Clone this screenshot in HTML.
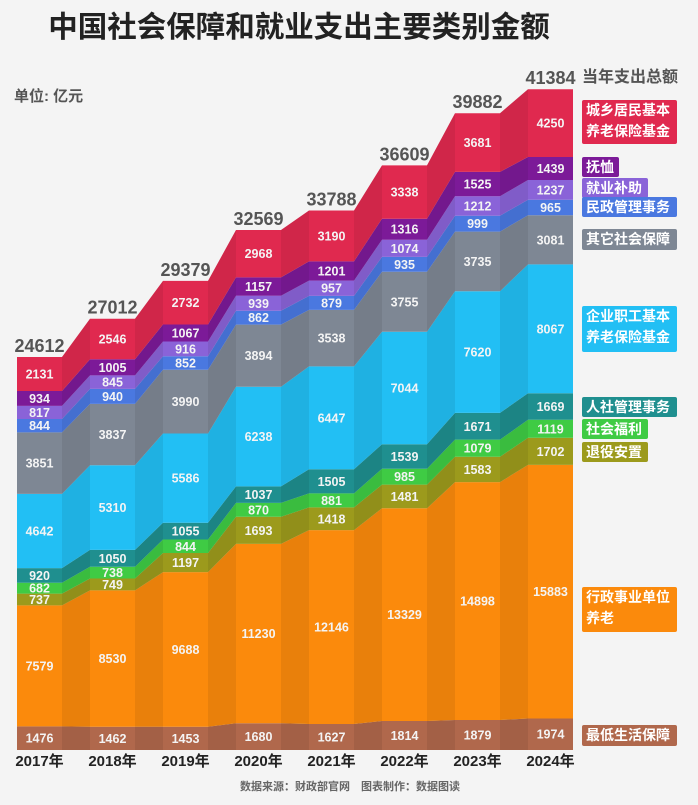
<!DOCTYPE html>
<html><head><meta charset="utf-8">
<style>
body{margin:0;background:#f4f4f4;width:698px;height:800px;overflow:hidden;font-family:"Liberation Sans","Noto Sans CJK SC",sans-serif;}
svg text{font-family:"Liberation Sans","Noto Sans CJK SC",sans-serif;font-weight:bold;}
</style></head><body>
<svg id="s" width="698" height="800" xmlns="http://www.w3.org/2000/svg">
<rect width="698" height="800" fill="#f4f4f4"/>
<text x="299" y="37" font-size="29.5" fill="#222" text-anchor="middle">中国社会保障和就业支出主要类别金额</text>
<text x="14" y="101" font-size="15" fill="#555">单位: 亿元</text>
<text x="350" y="790" font-size="11" fill="#666" text-anchor="middle">数据来源：财政部官网　图表制作：数据图读</text>
</svg>
<script>
(function(){
var d=[[1476,7579,737,682,920,4642,3851,844,817,934,2131],
[1462,8530,749,738,1050,5310,3837,940,845,1005,2546],
[1453,9688,1197,844,1055,5586,3990,852,916,1067,2732],
[1680,11230,1693,870,1037,6238,3894,862,939,1157,2968],
[1627,12146,1418,881,1505,6447,3538,879,957,1201,3190],
[1814,13329,1481,985,1539,7044,3755,935,1074,1316,3338],
[1879,14898,1583,1079,1671,7620,3735,999,1212,1525,3681],
[1974,15883,1702,1119,1669,8067,3081,965,1237,1439,4250]];
var tot=[24612,27012,29379,32569,33788,36609,39882,41384];
var col=["#b0684c","#fb8a0c","#9c9a1c","#3fcb44","#1f8f8f","#22bff4","#7e8794","#4a78e0","#8a63d8","#7c1a98","#e0294f"];
var base=750,k=393/24612,w=45;
function X(i){return 17+73*i;}
var s=document.getElementById('s'),ns="http://www.w3.org/2000/svg";
function el(t,a,txt){var e=document.createElementNS(ns,t);for(var q in a)e.setAttribute(q,a[q]);if(txt!=null)e.textContent=txt;s.appendChild(e);return e;}
var cum=d.map(function(r){var c=[0];r.forEach(function(v){c.push(c[c.length-1]+v)});return c;});
for(var L=0;L<11;L++){
 var tp=[],bt=[];
 for(var i=0;i<8;i++){
  var yt=base-cum[i][L+1]*k,yb=base-cum[i][L]*k;
  tp.push([X(i),yt],[X(i)+w,yt]);bt.push([X(i),yb],[X(i)+w,yb]);
 }
 var pts=tp.concat(bt.reverse()).map(function(p){return p[0].toFixed(1)+","+p[1].toFixed(1)}).join(" ");
 el('polygon',{points:pts,fill:col[L]});
}
// darken connectors
for(var i=0;i<7;i++){
 var p=[[X(i)+w,base],[X(i)+w,base-cum[i][11]*k],[X(i+1),base-cum[i+1][11]*k],[X(i+1),base]];
 el('polygon',{points:p.map(function(q){return q.join(",")}).join(" "),fill:"#000","fill-opacity":0.07});
}
for(var i=0;i<8;i++){
 for(var L=0;L<11;L++){
  var ym=base-(cum[i][L]+cum[i][L+1])/2*k;
  el('text',{x:X(i)+w/2,y:ym+4.5,"font-size":12.5,fill:"#f4f4f4","text-anchor":"middle"},d[i][L]);
 }
 el('text',{x:X(i)+w/2,y:base-tot[i]*k-5,"font-size":18,fill:"#555","text-anchor":"middle"},tot[i]);
 el('text',{x:X(i)+w/2,y:766,"font-size":15,fill:"#222","text-anchor":"middle"},(2017+i)+"年");
}
el('text',{x:582,y:82,"font-size":16,fill:"#555"},"当年支出总额");
var lg=[[100,44,"#e0294f",["城乡居民基本","养老保险基金"]],[157,20,"#7c1a98",["抚恤"]],[178,20,"#8a63d8",["就业补助"]],[197,20,"#4a78e0",["民政管理事务"]],[229,21,"#7e8794",["其它社会保障"]],[306,46,"#22bff4",["企业职工基本","养老保险基金"]],[397,20,"#1f8f8f",["人社管理事务"]],[419,20,"#3fcb44",["社会福利"]],[442,20,"#9c9a1c",["退役安置"]],[587,45,"#fb8a0c",["行政事业单位","养老"]],[725,21,"#b0684c",["最低生活保障"]]];
lg.forEach(function(g){
 var tw=g[3].reduce(function(m,t){return Math.max(m,t.length)},0)*14.5+8;
 el('rect',{x:582,y:g[0],width:tw,height:g[1],fill:g[2],rx:2});
 g[3].forEach(function(t,j){el('text',{x:586,y:g[0]+15+j*21,"font-size":14,fill:"#fff"},t);});
});
})();
</script>
</body></html>
